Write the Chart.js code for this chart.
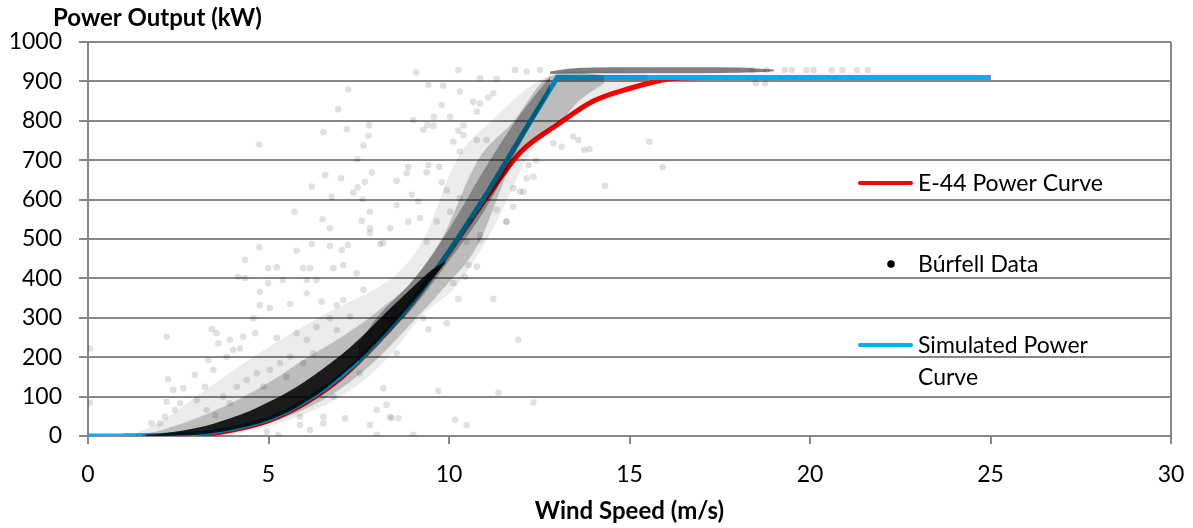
<!DOCTYPE html>
<html>
<head>
<meta charset="utf-8">
<script src="https://cdn.jsdelivr.net/npm/chart.js@4.4.1/dist/chart.umd.min.js"></script>
<style>
  body { margin: 0; background: #fff; }
  #wrap { width: 1193px; height: 528px; }
</style>
</head>
<body>
<div id="wrap"><canvas id="powerChart" width="1193" height="528"></canvas></div>
<script>
// ----------- DATA -----------
// E-44 manufacturer power curve
const e44Speed = [1, 2, 3, 4, 5, 6, 7, 8, 9, 10, 11, 12, 13, 14, 15, 16, 17, 18, 20, 25];
const e44Power = [0, 0, 2, 15, 39, 83, 147, 236, 341, 467, 600, 722, 790, 850, 882, 905, 910, 910, 910, 910];

// Simulated power curve
const simSpeed = [0, 1, 1.5, 2, 2.5, 3, 3.5, 4, 4.5, 5, 5.5, 6, 6.5, 7, 7.5, 8, 8.5, 9, 9.5, 10, 10.5, 11, 12, 13, 25];
const simPower = [0, 0, 0, 1, 3, 6, 11, 19, 29, 43, 62, 88, 117, 152, 192, 238, 288, 342, 402, 468, 537, 608, 760, 910, 910];

// Búrfell measurements: solid black core of the cloud (lower / upper edge)
const coreSpeed = [1.6, 2, 2.5, 3, 3.5, 4, 4.5, 5, 5.5, 6, 6.5, 7, 7.5, 8, 8.5, 9, 9.5, 9.9];
const coreLow  = [0, 0, 1, 3, 8, 16, 26, 40, 59, 85, 115, 152, 192, 238, 288, 340, 395, 440];
const coreHigh = [3, 6, 12, 20, 32, 47, 64, 86, 110, 138, 170, 205, 245, 290, 335, 378, 420, 445];

// Búrfell measurements: darker grey along the curve
const darkSpeed = [7.5, 8, 9, 10, 11, 12, 12.8];
const darkLow  = [185, 232, 325, 445, 575, 745, 875];
const darkHigh = [235, 300, 395, 525, 680, 820, 912];

// Búrfell measurements: dense grey zone
const midSpeed = [1.5, 2, 3, 4, 5, 6, 7, 8, 9, 9.8, 10.8, 11.8, 12.6, 13.1, 13.6, 14.3];
const midLow  = [0, 0, 0, 10, 32, 68, 120, 195, 290, 370, 485, 700, 770, 800, 850, 895];
const midHigh = [4, 14, 45, 85, 135, 195, 250, 315, 395, 500, 700, 800, 900, 920, 922, 915];

// Búrfell measurements: light grey zone
const lightSpeed = [1.3, 2, 3, 4, 5, 6, 7, 8, 8.6, 9.3, 10.2, 11.3, 12.3, 13.3, 14.5, 15.5];
const lightLow  = [0, 0, 0, 5, 25, 55, 100, 170, 230, 310, 380, 540, 725, 800, 870, 900];
const lightHigh = [6, 35, 100, 165, 225, 280, 330, 375, 415, 500, 700, 810, 890, 925, 925, 918];

// Búrfell measurements: row at rated power
const ratedSpeed = [12.8, 13.3, 14, 15, 16, 17, 18, 18.5, 19];
const ratedLow  = [919, 920, 921, 921, 921, 921, 922, 923, 926];
const ratedHigh = [925, 932, 935, 936, 936, 936, 935, 933, 930];

// Búrfell measurements: individual scattered points
const burfellSpeed = [
  2.18, 4.35, 4.75, 6.2, 6.7, 7.2, 5.78, 4.99, 5.23, 5.96,
  4.16, 4.35, 4.76, 4.99, 5.4, 6.06, 6.33, 7.07, 4.76, 5.04,
  5.6, 6.06, 6.47, 6.89, 4.58, 3.43, 3.93, 4.3, 4.63, 5.23,
  5.78, 6.06, 3.33, 3.61, 3.84, 4.21, 2.22, 2.64, 2.96, 3.24,
  3.47, 2.36, 2.41, 2.13, 1.99, 1.76, 2.55, 3.01, 3.29, 3.75,
  4.12, 4.4, 4.67, 5.04, 5.32, 5.6, 5.96, 6.24, 5.5, 4.86,
  3.93, 3.52, 6.52, 7.12, 7.81, 6.15, 4.95, 5.87, 8.18, 8.0,
  7.53, 7.81, 8.17, 7.44, 7.63, 7.07, 7.26, 6.7, 6.33, 6.89,
  9.09, 10.26, 7.21, 6.93, 6.52, 7.17, 7.79, 7.77, 7.63, 7.46,
  6.57, 7.01, 6.2, 5.72, 6.5, 6.7, 6.75, 7.35, 7.61, 7.67,
  7.86, 7.58, 7.81, 8.09, 7.03, 9.01, 9.4, 9.58, 9.8, 9.84,
  9.43, 8.87, 8.83, 8.55, 9.43, 9.38, 9.73, 8.97, 9.15, 8.55,
  8.37, 8.87, 7.81, 10.03, 10.12, 10.3, 10.4, 10.4, 10.67, 10.77,
  11.09, 11.23, 11.32, 10.86, 9.8, 9.94, 10.3, 9.2, 9.66, 10.03,
  9.38, 10.49, 10.86, 11.6, 11.97, 11.78, 12.2, 15.55, 15.92, 14.32,
  13.89, 13.74, 13.12, 12.89, 13.44, 13.58, 12.41, 12.15, 12.34, 12.06,
  11.58, 11.32, 11.78, 10.86, 10.58, 9.29, 9.57, 10.3, 10.26, 10.77,
  11.04, 10.86, 11.83, 12.15, 12.52, 4.74, 7.47, 6.15, 6.8, 3.56,
  4.02, 2.18, 0.05, 0.05, 5.27, 6.8, 8.0, 8.27, 8.37, 5.87,
  6.52, 8.41, 8.6, 9.01, 9.7, 10.17, 10.49, 11.37, 12.34, 11.92,
  11.23, 10.26, 9.43, 10.54, 10.77, 9.94, 8.55, 9.29, 10.44, 10.12,
  18.4, 18.8, 19.3, 19.5, 19.9, 20.1, 20.6, 20.9, 21.3, 21.6,
  18.5, 18.75
];
const burfellPower = [
  252, 447, 479, 487, 482, 485, 470, 426, 428, 426,
  404, 401, 366, 388, 396, 396, 396, 434, 332, 325,
  335, 362, 341, 332, 299, 271, 244, 252, 261, 249,
  261, 244, 193, 235, 201, 222, 144, 121, 155, 125,
  168, 117, 66, 49, 32, 32, 83, 91, 66, 100,
  125, 142, 159, 168, 185, 201, 185, 210, 150, 125,
  83, 53, 49, 45, 28, 15, 11, 28, 121, 66,
  159, 515, 490, 413, 371, 345, 303, 299, 277, 269,
  923, 929, 880, 829, 771, 779, 789, 762, 737, 702,
  662, 654, 633, 569, 550, 527, 607, 618, 601, 645,
  669, 546, 527, 487, 472, 802, 789, 810, 840, 889,
  891, 683, 667, 648, 688, 669, 683, 612, 595, 586,
  527, 544, 569, 810, 747, 722, 764, 788, 848, 823,
  859, 870, 906, 908, 644, 624, 603, 553, 544, 569,
  493, 493, 497, 544, 620, 629, 688, 747, 682, 635,
  728, 726, 734, 743, 760, 751, 700, 654, 658, 620,
  544, 574, 582, 510, 544, 777, 787, 874, 775, 751,
  751, 844, 929, 925, 929, 740, 631, 426, 426, 261,
  218, 87, 222, 85, 2, 100, 3, 79, 49, 49,
  32, 45, 45, 3, 114, 41, 28, 110, 85, 244,
  348, 348, 271, 434, 430, 286, 210, 299, 404, 388,
  929, 929, 929, 929, 929, 929, 929, 929, 929, 929,
  895, 895
];

// ----------- STYLE -----------
const RED = "#FF0000";
const BLUE = "#00B0F0";
const GRID = "#878787";
const FONT = "Lato";

const pts = (xs, ys) => xs.map((x, i) => ({ x: x, y: ys[i] }));

// two line datasets with the area between them filled
function band(xs, lo, hi, color, order) {
  return [
    { data: pts(xs, lo), borderWidth: 0, pointRadius: 0, fill: false, order: order, cubicInterpolationMode: "monotone" },
    { data: pts(xs, hi), borderWidth: 0, pointRadius: 0, fill: "-1", backgroundColor: color, order: order, cubicInterpolationMode: "monotone" }
  ];
}

// legend inside the plot + frame line + top-left axis title
const sideLegend = {
  id: "sideLegend",
  afterDraw(chart) {
    const ctx = chart.ctx;
    const a = chart.chartArea;
    ctx.save();
    ctx.strokeStyle = GRID;
    ctx.lineWidth = 2;
    ctx.beginPath();
    ctx.moveTo(a.right, a.top);
    ctx.lineTo(a.right, a.bottom + 8);
    ctx.stroke();

    ctx.font = "23px " + FONT;
    ctx.textBaseline = "middle";
    ctx.fillStyle = "#000";
    ctx.lineCap = "round";
    ctx.lineWidth = 4;

    ctx.strokeStyle = RED;
    ctx.beginPath(); ctx.moveTo(860, 183); ctx.lineTo(911, 183); ctx.stroke();
    ctx.fillText("E-44 Power Curve", 918, 184);

    ctx.beginPath(); ctx.arc(891, 264, 3.8, 0, Math.PI * 2); ctx.fill();
    ctx.fillText("Búrfell Data", 918, 265);

    ctx.strokeStyle = BLUE;
    ctx.beginPath(); ctx.moveTo(860, 345); ctx.lineTo(911, 345); ctx.stroke();
    ctx.fillText("Simulated Power", 918, 346);
    ctx.fillText("Curve", 918, 378);

    ctx.font = "bold 24px " + FONT;
    ctx.fillText("Power Output (kW)", 53, 18);
    ctx.restore();
  }
};

const ctx = document.getElementById("powerChart").getContext("2d");

new Chart(ctx, {
  type: "line",
  data: {
    datasets: [
      {
        label: "Búrfell Data",
        data: pts(burfellSpeed, burfellPower),
        showLine: false,
        pointRadius: 3.3,
        pointBorderWidth: 0,
        pointBackgroundColor: "rgba(0,0,0,0.12)",
        order: 0
      },
      ...band(ratedSpeed, ratedLow, ratedHigh, "rgba(0,0,0,0.5)", 1),
      ...band(coreSpeed, coreLow, coreHigh, "rgba(0,0,0,0.86)", 2),
      ...band(darkSpeed, darkLow, darkHigh, "rgba(0,0,0,0.3)", 3),
      ...band(midSpeed, midLow, midHigh, "rgba(0,0,0,0.2)", 4),
      ...band(lightSpeed, lightLow, lightHigh, "rgba(0,0,0,0.08)", 5),
      {
        label: "Simulated Power Curve",
        data: pts(simSpeed, simPower),
        borderColor: BLUE,
        borderWidth: 5,
        pointRadius: 0,
        tension: 0,
        fill: false,
        order: 6
      },
      {
        label: "E-44 Power Curve",
        data: pts(e44Speed, e44Power),
        borderColor: RED,
        borderWidth: 5,
        pointRadius: 0,
        cubicInterpolationMode: "monotone",
        fill: false,
        order: 7
      }
    ]
  },
  options: {
    responsive: false,
    animation: false,
    layout: { padding: { top: 42, right: 22, left: 0, bottom: 0 } },
    plugins: {
      legend: { display: false },
      tooltip: { enabled: false }
    },
    scales: {
      x: {
        type: "linear",
        min: 0,
        max: 30,
        afterFit: (s) => { s.height = 92; s.paddingLeft = 0; s.paddingRight = 0; },
        ticks: { stepSize: 5, color: "#000", padding: 17, maxRotation: 0, font: { family: FONT, size: 23 } },
        grid: { drawOnChartArea: false, color: GRID, lineWidth: 2, tickLength: 8 },
        border: { color: GRID, width: 2 },
        title: {
          display: true,
          text: "Wind Speed (m/s)",
          color: "#000",
          font: { family: FONT, size: 24, weight: "bold" },
          padding: { top: 0, bottom: 2 }
        }
      },
      y: {
        min: 0,
        max: 1000,
        afterFit: (s) => { s.width = 88; s.paddingTop = 0; s.paddingBottom = 0; },
        ticks: { stepSize: 100, color: "#000", padding: 17, font: { family: FONT, size: 23 }, callback: (v) => String(v) },
        grid: { color: GRID, lineWidth: 2, tickLength: 9 },
        border: { color: GRID, width: 2 }
      }
    }
  },
  plugins: [sideLegend]
});
</script>
</body>
</html>
